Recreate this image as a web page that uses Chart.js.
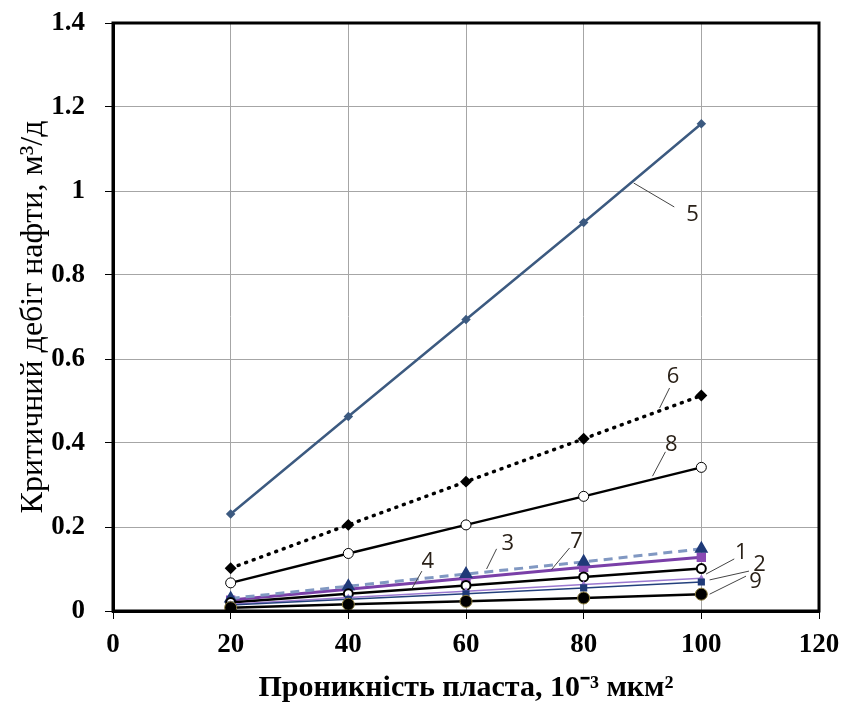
<!DOCTYPE html>
<html>
<head>
<meta charset="utf-8">
<script src="https://cdn.jsdelivr.net/npm/chart.js@4.4.1/dist/chart.umd.min.js"></script>
<style>
    html, body { margin: 0; padding: 0; background: #fff; }
    #wrap { width: 844px; height: 706px; position: relative; }
</style>
</head>
<body>
<div id="wrap"><canvas id="mainChart"></canvas></div>
<script>
// -----------------------------
// data
// -----------------------------
const permeability = [20, 40, 60, 80, 100];

const s1 = [0.020, 0.041, 0.061, 0.081, 0.101];
const s2 = [0.014, 0.028, 0.041, 0.055, 0.069];
const s3 = [0.030, 0.059, 0.088, 0.117, 0.148];
const s4 = [0.016, 0.032, 0.047, 0.063, 0.078];
const s5 = [0.231, 0.463, 0.694, 0.925, 1.160];
const s6 = [0.102, 0.205, 0.308, 0.410, 0.513];
const s7 = [0.026, 0.052, 0.078, 0.104, 0.128];
const s8 = [0.067, 0.137, 0.205, 0.273, 0.342];
const s9 = [0.008, 0.016, 0.023, 0.031, 0.040];

const xTicks = [0, 20, 40, 60, 80, 100, 120];
const yTicks = [0, 0.2, 0.4, 0.6, 0.8, 1, 1.2, 1.4];

// curve labels: [text, textX, textY, lineFromX, lineFromY, lineToX, lineToY] in data units
const curveLabels = [
    ["5", 98.5, 0.943, 95.4, 0.962, 88.5, 1.019],
    ["6", 95.2, 0.557, 94.6, 0.531, 92.9, 0.483],
    ["8", 94.9, 0.395, 93.9, 0.379, 91.7, 0.321],
    ["3", 67.1, 0.160, 65.2, 0.148, 63.5, 0.100],
    ["7", 78.8, 0.166, 77.6, 0.150, 74.5, 0.098],
    ["4", 53.5, 0.118, 52.5, 0.095, 50.8, 0.053],
    ["1", 106.8, 0.139, 105.6, 0.124, 100.8, 0.088],
    ["2", 109.9, 0.111, 108.1, 0.095, 101.4, 0.074],
    ["9", 109.2, 0.069, 107.6, 0.083, 101.4, 0.040]
];

const toPts = arr => arr.map((v, i) => ({ x: permeability[i], y: v }));

// -----------------------------
// plugins
// -----------------------------
const framePlugin = {
    id: "frame",
    afterDraw(chart) {
        const a = chart.chartArea;
        const c = chart.ctx;
        c.save();
        c.strokeStyle = "#000";
        c.lineWidth = 3;
        c.strokeRect(a.left, a.top, a.right - a.left, a.bottom - a.top);
        c.restore();
    }
};

const labelPlugin = {
    id: "curveLabels",
    afterDatasetsDraw(chart) {
        const xs = chart.scales.x, ys = chart.scales.y;
        const c = chart.ctx;
        c.save();
        c.font = "22px 'Open Sans', sans-serif";
        c.textAlign = "center";
        c.textBaseline = "middle";
        curveLabels.forEach(l => {
            c.strokeStyle = "#444";
            c.lineWidth = 1;
            c.beginPath();
            c.moveTo(xs.getPixelForValue(l[3]), ys.getPixelForValue(l[4]));
            c.lineTo(xs.getPixelForValue(l[5]), ys.getPixelForValue(l[6]));
            c.stroke();
            c.fillStyle = "#2a2118";
            c.fillText(l[0], xs.getPixelForValue(l[1]), ys.getPixelForValue(l[2]));
        });
        c.restore();
    }
};

// -----------------------------
// chart
// -----------------------------
const tickFont = { family: "'Liberation Serif', serif", size: 27, weight: "bold" };

new Chart(document.getElementById("mainChart"), {
    type: "line",
    data: {
        datasets: [
            { label: "9", data: toPts(s9), borderColor: "#000", borderWidth: 2.5,
              pointStyle: "circle", pointRadius: 6, pointBackgroundColor: "#000",
              pointBorderColor: "#8a7a3a", pointBorderWidth: 1 },
            { label: "2", data: toPts(s2), borderColor: "#23407c", borderWidth: 1.5,
              pointStyle: "rect", pointRadius: 4, pointBackgroundColor: "#1f3a78",
              pointBorderColor: "#1f3a78" },
            { label: "4", data: toPts(s4), borderColor: "#9b78d0", borderWidth: 1.5,
              pointStyle: "triangle", pointRadius: 2.5, pointBackgroundColor: "#9b78d0",
              pointBorderColor: "#9b78d0" },
            { label: "1", data: toPts(s1), borderColor: "#000", borderWidth: 2.5,
              pointStyle: "circle", pointRadius: 4.5, pointBackgroundColor: "#fff",
              pointBorderColor: "#000", pointBorderWidth: 2 },
            { label: "3", data: toPts(s3), borderColor: "#8198c2", borderWidth: 3,
              borderDash: [9, 6], pointStyle: "triangle", pointRadius: 5,
              pointBackgroundColor: "#1f3a78", pointBorderColor: "#1f3a78" },
            { label: "7", data: toPts(s7), borderColor: "#7a3fa8", borderWidth: 3,
              pointStyle: "rect", pointRadius: 4.5, pointBackgroundColor: "#8a4ab4",
              pointBorderColor: "#8a4ab4" },
            { label: "8", data: toPts(s8), borderColor: "#000", borderWidth: 2.5,
              pointStyle: "circle", pointRadius: 5, pointBackgroundColor: "#fff",
              pointBorderColor: "#000", pointBorderWidth: 1 },
            { label: "6", data: toPts(s6), borderColor: "#000", borderWidth: 3.5,
              borderDash: [1, 7], borderCapStyle: "round", pointStyle: "rectRot",
              pointRadius: 3.5, pointBackgroundColor: "#000", pointBorderColor: "#000" },
            { label: "5", data: toPts(s5), borderColor: "#3c5a80", borderWidth: 2.5,
              pointStyle: "rectRot", pointRadius: 3, pointBackgroundColor: "#3c5a80",
              pointBorderColor: "#3c5a80" }
        ]
    },
    options: {
        responsive: true,
        maintainAspectRatio: false,
        animation: false,
        layout: { padding: { left: 0, right: 25, top: 23, bottom: 0 } },
        plugins: { legend: { display: false }, tooltip: { enabled: false } },
        scales: {
            x: {
                type: "linear", min: 0, max: 120,
                afterBuildTicks: s => { s.ticks = xTicks.map(v => ({ value: v })); },
                afterFit: s => { s.height = 95; s.paddingLeft = 0; s.paddingRight = 0; },
                grid: { color: "#a6a6a6", lineWidth: 1, tickLength: 8, tickColor: "#000" },
                border: { display: true, color: "#000", width: 3 },
                ticks: { font: tickFont, color: "#000", padding: 10, maxRotation: 0,
                         callback: v => String(v) },
                title: {
                    display: true,
                    text: "Проникність пласта, 10⁻³ мкм²",
                    font: { family: "'Liberation Serif', serif", size: 30, weight: "bold" },
                    color: "#000",
                    padding: { top: 0, bottom: 0 }
                }
            },
            y: {
                type: "linear", min: 0, max: 1.4,
                afterBuildTicks: s => { s.ticks = yTicks.map(v => ({ value: v })); },
                afterFit: s => { s.width = 113; s.paddingTop = 0; s.paddingBottom = 0; },
                grid: { color: "#a6a6a6", lineWidth: 1, tickLength: 8, tickColor: "#000" },
                border: { display: true, color: "#000", width: 3 },
                ticks: { font: tickFont, color: "#000", padding: 20,
                         callback: v => String(v) },
                title: {
                    display: true,
                    text: "Критичний дебіт нафти, м³/д",
                    font: { family: "'Liberation Serif', serif", size: 32, weight: "normal" },
                    color: "#000",
                    padding: { top: 14, bottom: 0 }
                }
            }
        }
    },
    plugins: [framePlugin, labelPlugin]
});
</script>
</body>
</html>
